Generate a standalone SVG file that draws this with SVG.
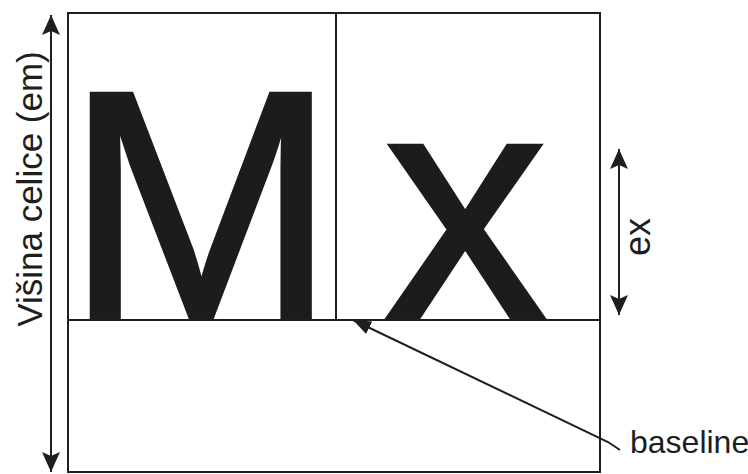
<svg xmlns="http://www.w3.org/2000/svg" width="748" height="474" viewBox="0 0 748 474">
  <style>
    .frame { fill: none; stroke: #1e1e1e; stroke-width: 2; }
    .conn { fill: none; stroke: #1e1e1e; stroke-width: 2; }
    .glyph { font-family: "Liberation Sans", Arial, sans-serif; font-size: 326px; fill: #1c1c1c; stroke: #1c1c1c; stroke-width: 4; stroke-linejoin: miter; }
    .label { font-family: "Liberation Sans", Arial, sans-serif; fill: #1e1e1e; }
  </style>
  <defs>
    <marker id="arr" viewBox="0 0 20 18" refX="20" refY="9" markerWidth="20" markerHeight="18" markerUnits="userSpaceOnUse" orient="auto-start-reverse">
      <path d="M0,0 L20,9 L0,18 L4,9 z" fill="#1e1e1e"/>
    </marker>
    <marker id="arrs" viewBox="0 0 18 14" refX="18" refY="7" markerWidth="18" markerHeight="14" markerUnits="userSpaceOnUse" orient="auto">
      <path d="M0,0 L18,7 L0,14 z" fill="#1e1e1e"/>
    </marker>
  </defs>
  <rect width="748" height="474" fill="#ffffff"/>
  <g id="glyph-M">
    <text class="glyph" x="65" y="318">M</text>
  </g>
  <g id="glyph-x">
    <text class="glyph" x="384" y="318">x</text>
  </g>
  <g id="frame">
    <rect class="frame" x="68" y="13" width="532" height="459"/>
    <line class="frame" x1="336" y1="13" x2="336" y2="320"/>
    <line class="frame" x1="68" y1="320" x2="600" y2="320"/>
  </g>
  <g id="connectors">
    <line class="conn" x1="51" y1="15" x2="51" y2="472" marker-start="url(#arr)" marker-end="url(#arr)"/>
    <line class="conn" x1="619" y1="149" x2="619" y2="315" marker-start="url(#arr)" marker-end="url(#arr)"/>
    <polyline class="conn" points="620,450 608,442 353,320" marker-end="url(#arrs)"/>
  </g>
  <g id="label-em">
    <text class="label" font-size="35" text-anchor="middle" transform="translate(42,189) rotate(-90)">Višina celice (em)</text>
  </g>
  <g id="label-ex">
    <text class="label" font-size="36" text-anchor="middle" transform="translate(650,237) rotate(-90)">ex</text>
  </g>
  <g id="label-baseline">
    <text class="label" font-size="32" x="630" y="453">baseline</text>
  </g>
</svg>
